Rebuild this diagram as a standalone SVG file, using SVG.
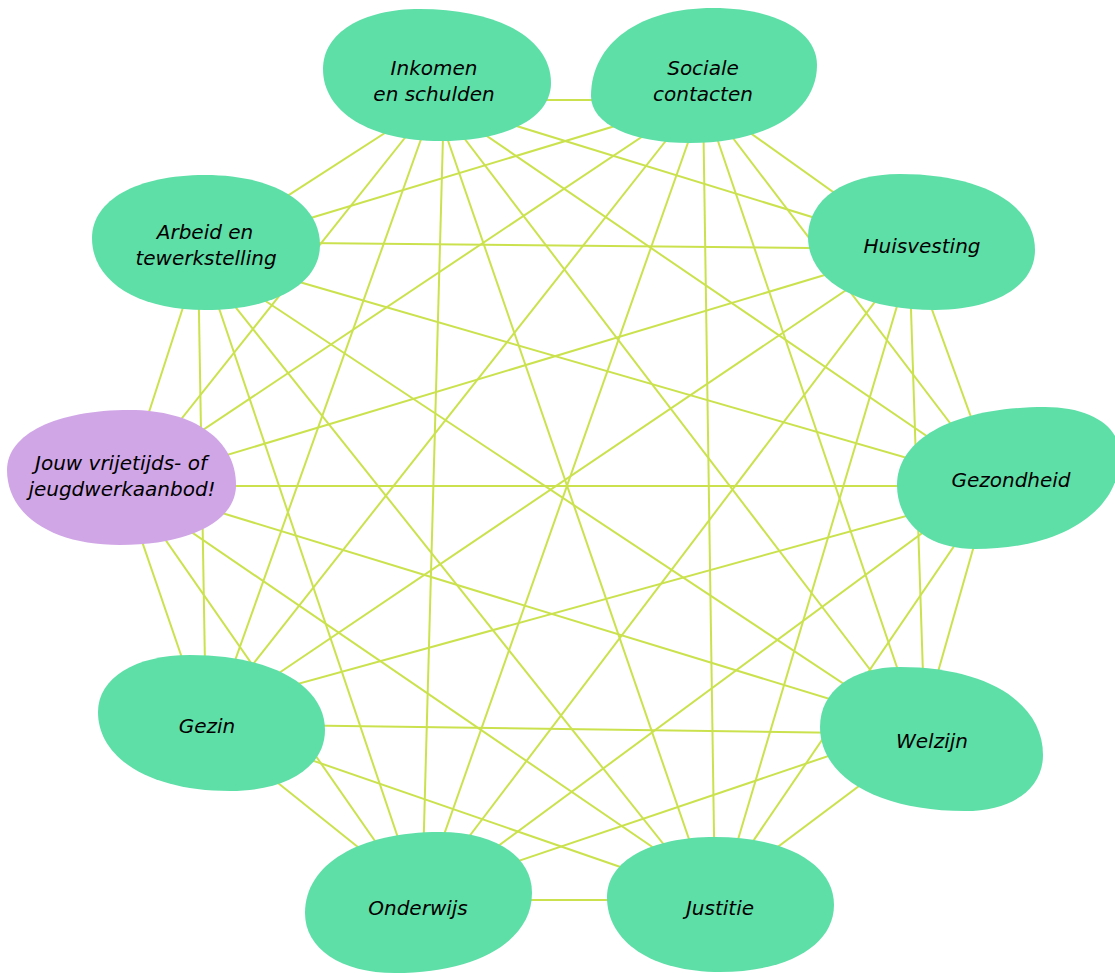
<svg xmlns="http://www.w3.org/2000/svg" width="1115" height="973" viewBox="0 0 1115 973">
<style>
.edge{stroke:#CBE24E;stroke-width:2;fill:none}
.blob{fill:#5EDFA8}
.own{fill:#D0A6E6}
.lbl{font-family:"DejaVu Sans",sans-serif;font-style:italic;font-size:20px;text-anchor:middle;fill:#000}
</style>
<rect width="1115" height="973" fill="#ffffff"/>
<g id="connectors">
<line class="edge" x1="434" y1="100" x2="701" y2="100"/>
<line class="edge" x1="432" y1="100" x2="916" y2="249"/>
<line class="edge" x1="434" y1="100" x2="1000" y2="486"/>
<line class="edge" x1="435" y1="100" x2="920" y2="735"/>
<line class="edge" x1="434" y1="100" x2="710" y2="900"/>
<line class="edge" x1="444" y1="100" x2="422" y2="900"/>
<line class="edge" x1="435" y1="100" x2="212" y2="725"/>
<line class="edge" x1="435" y1="100" x2="128" y2="486"/>
<line class="edge" x1="436" y1="100" x2="196" y2="255"/>
<line class="edge" x1="704" y1="100" x2="913" y2="249"/>
<line class="edge" x1="704" y1="100" x2="998" y2="486"/>
<line class="edge" x1="704" y1="100" x2="920" y2="735"/>
<line class="edge" x1="703" y1="100" x2="715" y2="900"/>
<line class="edge" x1="703" y1="100" x2="421" y2="900"/>
<line class="edge" x1="698" y1="100" x2="205" y2="725"/>
<line class="edge" x1="697" y1="100" x2="119" y2="486"/>
<line class="edge" x1="701" y1="100" x2="195" y2="253"/>
<line class="edge" x1="910" y1="249" x2="996" y2="486"/>
<line class="edge" x1="909" y1="249" x2="925" y2="735"/>
<line class="edge" x1="914" y1="249" x2="720" y2="900"/>
<line class="edge" x1="915" y1="249" x2="421" y2="900"/>
<line class="edge" x1="907" y1="249" x2="202" y2="725"/>
<line class="edge" x1="911" y1="249" x2="124" y2="486"/>
<line class="edge" x1="910" y1="249" x2="200" y2="242"/>
<line class="edge" x1="991" y1="486" x2="920" y2="735"/>
<line class="edge" x1="995" y1="486" x2="713" y2="900"/>
<line class="edge" x1="986" y1="486" x2="425" y2="900"/>
<line class="edge" x1="1015" y1="486" x2="207" y2="709"/>
<line class="edge" x1="995" y1="486" x2="124" y2="486"/>
<line class="edge" x1="1004" y1="486" x2="206" y2="255"/>
<line class="edge" x1="927" y1="735" x2="707" y2="900"/>
<line class="edge" x1="920" y1="725" x2="421" y2="894"/>
<line class="edge" x1="920" y1="734" x2="207" y2="724"/>
<line class="edge" x1="918" y1="726" x2="124" y2="483"/>
<line class="edge" x1="921" y1="735" x2="196" y2="255"/>
<line class="edge" x1="713" y1="900" x2="421" y2="900"/>
<line class="edge" x1="713" y1="899" x2="207" y2="724"/>
<line class="edge" x1="730" y1="900" x2="124" y2="486"/>
<line class="edge" x1="708" y1="900" x2="194" y2="255"/>
<line class="edge" x1="424" y1="900" x2="202" y2="722"/>
<line class="edge" x1="416" y1="900" x2="128" y2="486"/>
<line class="edge" x1="419" y1="900" x2="201" y2="255"/>
<line class="edge" x1="205" y1="725" x2="123" y2="486"/>
<line class="edge" x1="206" y1="725" x2="198" y2="255"/>
<line class="edge" x1="125" y1="486" x2="200" y2="255"/>
</g>
<g id="node-inkomen">
<path class="blob" d="M323,69 C323,33 362,9 420,9 C499,9 551,39 551,83 C551,118 507,141 440,141 C370,141 323,112 323,69Z"/>
<text class="lbl" x="434" y="75">Inkomen</text>
<text class="lbl" x="434" y="101">en schulden</text>
</g>
<g id="node-sociale">
<path class="blob" d="M591,96 C591,43 640,8 713,8 C775,8 817,31 817,65 C817,112 766,143 690,143 C631,143 591,124 591,96Z"/>
<text class="lbl" x="703" y="75">Sociale</text>
<text class="lbl" x="703" y="101">contacten</text>
</g>
<g id="node-huisvesting">
<path class="blob" d="M808,237 C808,199 845,174 900,174 C981,174 1035,204 1035,250 C1035,286 995,310 935,310 C859,310 808,281 808,237Z"/>
<text class="lbl" x="922" y="253">Huisvesting</text>
</g>
<g id="node-gezondheid">
<path class="blob" d="M897,485 C897,438 956,407 1045,407 C1090,407 1120,426 1120,455 C1120,511 1062,549 975,549 C928,549 897,523 897,485Z"/>
<text class="lbl" x="1011" y="487">Gezondheid</text>
</g>
<g id="node-welzijn">
<path class="blob" d="M820,727 C820,691 852,667 900,667 C986,667 1043,702 1043,755 C1043,789 1012,811 965,811 C878,811 820,777 820,727Z"/>
<text class="lbl" x="932" y="748">Welzijn</text>
</g>
<g id="node-justitie">
<path class="blob" d="M607,897 C607,861 650,837 715,837 C786,837 834,864 834,905 C834,945 788,972 720,972 C652,972 607,942 607,897Z"/>
<text class="lbl" x="720" y="915">Justitie</text>
</g>
<g id="node-onderwijs">
<path class="blob" d="M305,913 C305,864 359,832 440,832 C495,832 532,856 532,893 C532,941 477,973 395,973 C341,973 305,949 305,913Z"/>
<text class="lbl" x="418" y="915">Onderwijs</text>
</g>
<g id="node-gezin">
<path class="blob" d="M98,712 C98,678 135,655 190,655 C271,655 325,685 325,730 C325,767 287,791 230,791 C151,791 98,759 98,712Z"/>
<text class="lbl" x="207" y="733">Gezin</text>
</g>
<g id="node-jouw">
<path class="own" d="M7,470 C7,434 56,410 130,410 C194,410 236,440 236,485 C236,521 190,545 120,545 C52,545 7,515 7,470Z"/>
<text class="lbl" x="121" y="470">Jouw vrijetijds- of</text>
<text class="lbl" x="122" y="496">jeugdwerkaanbod!</text>
</g>
<g id="node-arbeid">
<path class="blob" d="M92,238 C92,200 137,175 205,175 C274,175 320,203 320,245 C320,284 274,310 205,310 C137,310 92,281 92,238Z"/>
<text class="lbl" x="205" y="239">Arbeid en</text>
<text class="lbl" x="206" y="265">tewerkstelling</text>
</g>
</svg>
